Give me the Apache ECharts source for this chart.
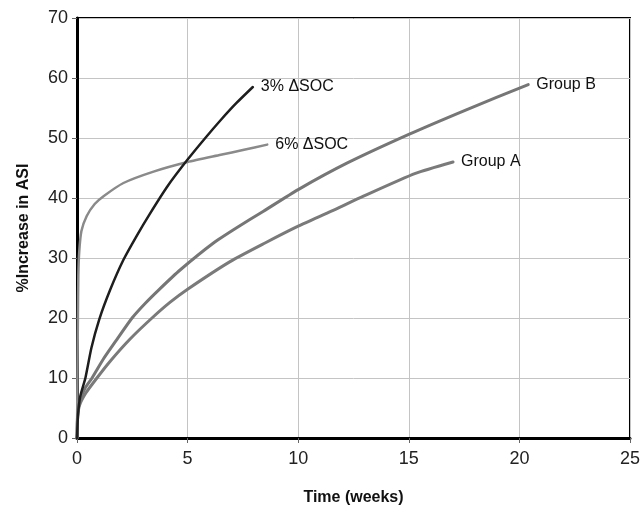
<!DOCTYPE html>
<html>
<head>
<meta charset="utf-8">
<script src="https://cdn.jsdelivr.net/npm/echarts@6/dist/echarts.min.js"></script>
<style>
  html, body { margin: 0; padding: 0; background: #fff; }
  #chart { width: 643px; height: 511px; }
</style>
</head>
<body>
<div id="chart"></div>
<script>
// [weeks, % increase]
const soc3 = [[0, 0], [0.05, 4], [0.15, 7], [0.38, 10], [0.65, 15], [1.0, 19.7], [1.5, 24.7],
  [2.1, 29.7], [2.7, 33.7], [3.3, 37.4], [4.1, 42], [5, 46.4], [5.8, 50], [6.5, 53],
  [7.2, 55.8], [7.95, 58.5]]
const soc6 = [[0, 0], [0.02, 10], [0.04, 20], [0.06, 27], [0.1, 31], [0.2, 34.5], [0.44, 37],
  [0.8, 39], [1.2, 40.3], [2.1, 42.5], [3.46, 44.4], [5, 46], [6.5, 47.2], [7.5, 48], [8.6, 48.9]]
const groupB = [[0, 0], [0.03, 4], [0.12, 6], [0.35, 8.2], [0.68, 10], [1.2, 13.2], [1.8, 16.4],
  [2.49, 20], [3.1, 22.5], [3.7, 24.7], [4.66, 28], [6.17, 32.5], [7.2, 35], [8.43, 37.8],
  [10, 41.4], [12.2, 45.8], [15, 50.6], [17.6, 54.7], [20.4, 58.9]]
const groupA = [[0, 0], [0.03, 3.5], [0.12, 5.5], [0.4, 7.5], [0.9, 10], [1.5, 12.8], [2.4, 16.5],
  [3.39, 20], [4.2, 22.6], [5, 24.8], [6.92, 29.4], [8.5, 32.5], [10, 35.3], [11.5, 37.8],
  [12.95, 40.3], [15.3, 44.1], [17, 46]]

const font = 'Liberation Sans, Arial, sans-serif'

function line(name, data, color, width) {
  return {
    name: name,
    type: 'line',
    data: data,
    showSymbol: false,
    smooth: 0.2,
    lineStyle: {color: color, width: width, join: 'round', cap: 'round'},
    itemStyle: {color: color},
    endLabel: {
      show: true,
      formatter: '{a}',
      distance: 8,
      color: '#111',
      fontSize: 16,
      fontFamily: font
    }
  }
}

const chart = echarts.init(document.getElementById('chart'))
chart.setOption({
  animation: false,
  grid: {
    left: 77, right: 12, top: 18, bottom: 72,
    show: true,
    borderColor: '#000',
    borderWidth: 2
  },
  xAxis: {
    type: 'value',
    min: 0, max: 25, interval: 5,
    name: 'Time (weeks)',
    nameLocation: 'middle',
    nameGap: 52,
    nameTextStyle: {fontSize: 16, fontWeight: 'bold', color: '#111', fontFamily: font},
    axisLine: {show: true, onZero: false, lineStyle: {color: '#000', width: 3}},
    axisTick: {show: true, length: 5, lineStyle: {color: '#666'}},
    axisLabel: {fontSize: 18, color: '#222', margin: 12, fontFamily: font},
    splitLine: {lineStyle: {color: '#c4c4c4', width: 1}}
  },
  yAxis: {
    type: 'value',
    min: 0, max: 70, interval: 10,
    name: '%Increase in ASI',
    nameLocation: 'middle',
    nameGap: 45,
    nameRotate: 90,
    nameTextStyle: {fontSize: 16, fontWeight: 'bold', color: '#111', fontFamily: font},
    axisLine: {show: true, lineStyle: {color: '#000', width: 3}},
    axisTick: {show: true, length: 5, lineStyle: {color: '#666'}},
    axisLabel: {fontSize: 18, color: '#222', margin: 9, fontFamily: font},
    splitLine: {lineStyle: {color: '#c4c4c4', width: 1}}
  },
  series: [
    line('6% \u0394SOC', soc6, '#8a8a8a', 2.5),
    line('Group A', groupA, '#7a7a7a', 3),
    line('Group B', groupB, '#767676', 3),
    line('3% \u0394SOC', soc3, '#1e1e1e', 2.5)
  ]
})
</script>
</body>
</html>
